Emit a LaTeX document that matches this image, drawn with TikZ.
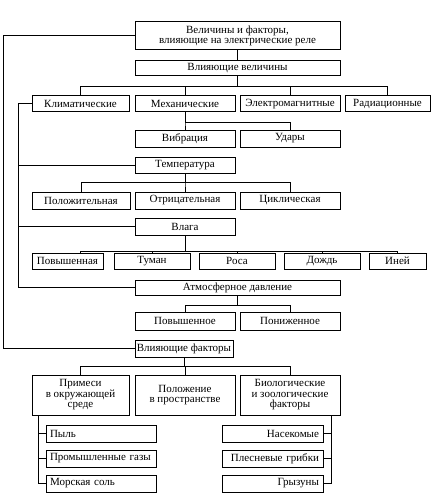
\documentclass[tikz,border=0pt]{standalone}
\usepackage{fontspec}
\setmainfont{Liberation Serif}
\begin{document}
\begin{tikzpicture}[x=1pt,y=-1pt,line width=1pt,
  kuang/.style={rectangle,draw=black,fill=white,inner sep=1pt,font=\fontsize{11}{11.5}\selectfont},
  lkuang/.style={kuang,text width=102pt,align=left,minimum height=17pt},
  rkuang/.style={kuang,text width=93pt,align=right,minimum height=17pt}]
\useasboundingbox (0,0) rectangle (437,500);
% verkh
\node (k0) at (237.5,36)[kuang,minimum width=205,minimum height=28,align=center]{Величины и факторы,\\[-1pt]влияющие на электрические реле};
\node (vv) at (237.5,68.5)[kuang,minimum width=205,minimum height=15]{Влияющие величины};
\node (klim) at (80.5,104)[kuang,minimum width=97,minimum height=16]{Климатические};
\node (mech) at (185,104)[kuang,minimum width=100,minimum height=16]{Механические};
\node (elm) at (290,104)[kuang,minimum width=100,minimum height=16]{Электромагнитные};
\node (rad) at (387.5,104)[kuang,minimum width=85,minimum height=16]{Радиационные};
\node (vib) at (185,138.5)[kuang,minimum width=100,minimum height=17]{Вибрация};
\node (ud) at (290,138.5)[kuang,minimum width=100,minimum height=17]{Удары};
% temperatura
\node (temp) at (185,165)[kuang,minimum width=100,minimum height=16]{Температура};
\node (t1) at (81,200.5)[kuang,minimum width=98,minimum height=17]{Положительная};
\node (t2) at (185,200.5)[kuang,minimum width=100,minimum height=17]{Отрицательная};
\node (t3) at (290,200.5)[kuang,minimum width=100,minimum height=17]{Циклическая};
% vlaga
\node (vl) at (185,226.5)[kuang,minimum width=100,minimum height=17]{Влага};
\node (v1) at (67.5,261)[kuang,minimum width=71,minimum height=16]{Повышенная};
\node (v2) at (152,261)[kuang,minimum width=76,minimum height=16]{Туман};
\node (v3) at (237,261)[kuang,minimum width=76,minimum height=16]{Роса};
\node (v4) at (322,261)[kuang,minimum width=76,minimum height=16]{Дождь};
\node (v5) at (397.5,261)[kuang,minimum width=57,minimum height=16]{Иней};
% davlenie
\node (atm) at (237.5,287.5)[kuang,minimum width=205,minimum height=15]{Атмосферное давление};
\node (d1) at (185,321)[kuang,minimum width=100,minimum height=18]{Повышенное};
\node (d2) at (290,321)[kuang,minimum width=100,minimum height=18]{Пониженное};
% faktory
\node (vf) at (184,348.5)[kuang,minimum width=98,minimum height=17]{Влияющие факторы};
\node (f1) at (80.5,395)[kuang,minimum width=97,minimum height=40,align=center]{Примеси\\[-1pt]в окружающей\\[-1pt]среде};
\node (f2) at (185,395)[kuang,minimum width=100,minimum height=40,align=center]{Положение\\[-1pt]в пространстве};
\node (f3) at (290,395)[kuang,minimum width=100,minimum height=40,align=center]{Биологические\\[-1pt]и зоологические\\[-1pt]факторы};
\node (p1) at (101,433.5)[lkuang,minimum width=110]{Пыль};
\node (p2) at (101,458.5)[lkuang,minimum width=110]{Промышленные газы};
\node (p3) at (101,483.5)[lkuang,minimum width=110]{Морская соль};
\node (b1) at (272.5,433.5)[rkuang,minimum width=101]{Насекомые};
\node (b2) at (272.5,458.5)[rkuang,minimum width=101]{Плесневые грибки};
\node (b3) at (272.5,483.5)[rkuang,minimum width=101]{Грызуны};

\draw (k0)--(vv);
\draw (vv.south)--++(0,10)-|(klim);
\draw (vv.south)--++(0,10)-|(mech);
\draw (vv.south)--++(0,10)-|(elm);
\draw (vv.south)--++(0,10)-|(rad);
\draw (mech.south)--++(0,10)-|(vib);
\draw (mech.south)--++(0,10)-|(ud);
\draw (temp.south)--++(0,9)-|(t1);
\draw (temp.south)--++(0,9)-|(t2);
\draw (temp.south)--++(0,9)-|(t3);
\draw (vl.south)--++(0,16)-|([xshift=12.5]v1.north);
\draw (vl.south)--++(0,16)-|(v2);
\draw (vl.south)--++(0,16)-|(v3);
\draw (vl.south)--++(0,16)-|(v4);
\draw (vl.south)--++(0,16)-|(v5);
\draw (atm.south)--++(0,10)-|(d1);
\draw (atm.south)--++(0,10)-|(d2);
\draw (vf.south)--++(0,9)-|(f1);
\draw (vf.south)--++(0,9)-|(f2);
\draw (vf.south)--++(0,9)-|(f3);

\draw (k0.west)--++(-131,0)|-(vf.west);
\draw (klim.west)--++(-13,0)|-(atm.west);
\draw (temp.west)--++(-116,0);
\draw (vl.west)--++(-116,0);

\draw ([xshift=7]f1.south west)|-(p1.west);
\draw ([xshift=7]f1.south west)|-(p2.west);
\draw ([xshift=7]f1.south west)|-(p3.west);
\draw ([xshift=-9]f3.south east)|-(b1.east);
\draw ([xshift=-9]f3.south east)|-(b2.east);
\draw ([xshift=-9]f3.south east)|-(b3.east);
\end{tikzpicture}
\end{document}
